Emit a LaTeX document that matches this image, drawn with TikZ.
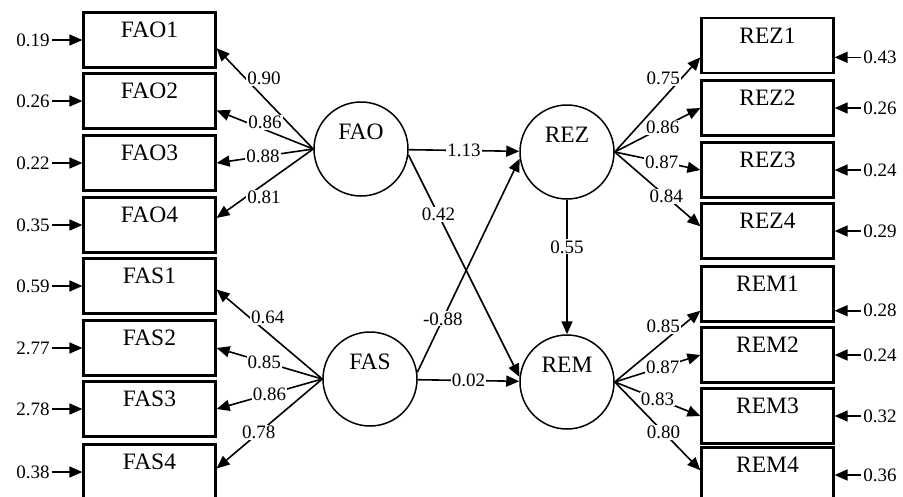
\documentclass[tikz,border=0pt]{standalone}
\usepackage{fontspec}
\setmainfont{Liberation Serif}
\newfontfamily\tnrfont{Liberation Serif}
\usetikzlibrary{arrows.meta,positioning}
\newcommand{\lvfont}{\tnrfont\fontsize{23.5}{25}\selectfont}
\newcommand{\cffont}{\tnrfont\fontsize{19}{21}\selectfont}
\begin{document}
\begin{tikzpicture}[x=1pt,y=-1pt,line width=1.6pt,>={Triangle[length=13pt,width=11pt]},
  ind/.style={draw,rectangle,line width=2.2pt,minimum width=132pt,inner sep=0pt,text height=25pt,text depth=30pt,font=\lvfont},
  lat/.style={draw,circle,line width=1.5pt,minimum size=94pt,inner sep=0pt,text height=6pt,text depth=26pt,font=\lvfont},
  cf/.style={fill=white,inner sep=1pt,font=\cffont},
  err/.style={inner sep=2pt,font=\cffont}]%,every edge/.style={draw,dashed}]
\path[use as bounding box,fill=white] (0,0) rectangle (903,496);
\node[ind] (FAO1) at (149.5,40) {FAO1};
\node[ind] (FAO2) at (149.5,101) {FAO2};
\node[ind] (FAO3) at (149.5,163) {FAO3};
\node[ind] (FAO4) at (149.5,225) {FAO4};
\node[ind] (FAS1) at (149.5,286) {FAS1};
\node[ind] (FAS2) at (149.5,348) {FAS2};
\node[ind] (FAS3) at (149.5,409) {FAS3};
\node[ind] (FAS4) at (149.5,472) {FAS4};
\node[ind] (REZ1) at (767.5,45.5) {REZ1};
\node[ind] (REZ2) at (767.5,108) {REZ2};
\node[ind] (REZ3) at (767.5,170) {REZ3};
\node[ind] (REZ4) at (767.5,231) {REZ4};
\node[ind] (REM1) at (767.5,294) {REM1};
\node[ind] (REM2) at (767.5,355) {REM2};
\node[ind] (REM3) at (767.5,416) {REM3};
\node[ind] (REM4) at (767.5,475) {REM4};
\node[lat] (FAO) at (361,149) {FAO};
\node[lat] (FAS) at (370,379) {FAS};
\node[lat] (REZ) at (567,152) {REZ};
\node[lat] (REM) at (567,382) {REM};
\node[err,left=30pt of FAO1] (eFAO1) {0.19};
\node[err,left=30pt of FAO2] (eFAO2) {0.26};
\node[err,left=30pt of FAO3] (eFAO3) {0.22};
\node[err,left=30pt of FAO4] (eFAO4) {0.35};
\node[err,left=30pt of FAS1] (eFAS1) {0.59};
\node[err,left=30pt of FAS2] (eFAS2) {2.77};
\node[err,left=30pt of FAS3] (eFAS3) {2.78};
\node[err,left=30pt of FAS4] (eFAS4) {0.38};
\node[err,right=26pt of REZ1.-10] (eREZ1) {0.43};
\node[err,right=26pt of REZ2] (eREZ2) {0.26};
\node[err,right=26pt of REZ3] (eREZ3) {0.24};
\node[err,right=26pt of REZ4] (eREZ4) {0.29};
\node[err,right=26pt of REM1.-14] (eREM1) {0.28};
\node[err,right=26pt of REM2] (eREM2) {0.24};
\node[err,right=26pt of REM3] (eREM3) {0.32};
\node[err,right=26pt of REM4] (eREM4) {0.36};
\path[->] (eFAO1) edge (FAO1) (eFAO2) edge (FAO2) (eFAO3) edge (FAO3) (eFAO4) edge (FAO4);
\path[->] (eFAS1) edge (FAS1) (eFAS2) edge (FAS2) (eFAS3) edge (FAS3) (eFAS4) edge (FAS4);
\path[->] (eREZ1) edge (REZ1.-10) (eREZ2) edge (REZ2) (eREZ3) edge (REZ3) (eREZ4) edge (REZ4);
\path[->] (eREM1) edge (REM1.-14) (eREM2) edge (REM2) (eREM3) edge (REM3) (eREM4) edge (REM4);
\path[->] (FAO.west) edge node[cf,pos=0.7,anchor=west] {0.90} (FAO1.-7);
\path[->] (FAO.west) edge node[cf,pos=0.69,anchor=west] {0.86} (FAO2.-8);
\path[->] (FAO.west) edge node[cf,pos=0.52] {0.88} (FAO3.east);
\path[->] (FAO.west) edge node[cf,pos=0.7,anchor=west] {0.81} (FAO4.6);
\path[->] (FAS.west) edge node[cf,pos=0.69,anchor=west] {0.64} (FAS1.-3);
\path[->] (FAS.west) edge node[cf,pos=0.55] {0.85} (FAS2.east);
\path[->] (FAS.west) edge node[cf,pos=0.5] {0.86} (FAS3.east);
\path[->] (FAS.west) edge node[cf,pos=0.6] {0.78} (FAS4.3);
\path[->] (REZ.east) edge node[cf,pos=0.78,anchor=east] {0.75} (REZ1.190);
\path[->] (REZ.east) edge node[cf,pos=0.56] {0.86} (REZ2.west);
\path[->] (REZ.east) edge node[cf,pos=0.55] {0.87} (REZ3.west);
\path[->] (REZ.east) edge node[cf,pos=0.6] {0.84} (REZ4.176);
\path[->] (REM.east) edge node[cf,pos=0.78,anchor=east] {0.85} (REM1.194);
\path[->] (REM.east) edge node[cf,pos=0.56] {0.87} (REM2.west);
\path[->] (REM.east) edge node[cf,pos=0.5] {0.83} (REM3.west);
\path[->] (REM.east) edge node[cf,pos=0.57] {0.80} (REM4.176);
\path[->] (FAO) edge node[cf] {1.13} (REZ);
\path[->] (FAO.-7) edge node[cf,pos=0.27] {0.42} (REM.174);
\path[->] (FAS.8) edge node[cf,pos=0.25] {-0.88} (REZ.188);
\path[->] (FAS) edge node[cf] {0.02} (REM);
\path[->] (REZ) edge node[cf,pos=0.35] {0.55} (REM);
\end{tikzpicture}
\end{document}
